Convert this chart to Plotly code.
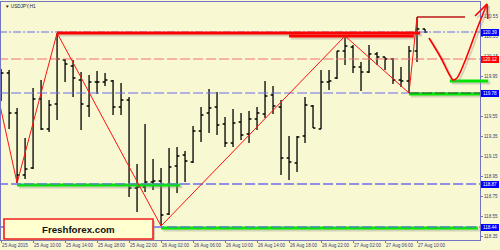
import plotly.graph_objects as go

# ---------------- data ----------------
bars = list(range(54))  # hourly bars from 25 Aug 2015 06:00
opens = [119.80, 119.98, 119.58, 118.96, 119.03, 119.72, 119.42, 119.67, 120.11, 120.05,
         119.91, 119.65, 119.89, 119.89, 119.90, 119.64, 119.71, 118.83, 118.84, 118.89,
         118.90, 118.57, 119.05, 119.16, 119.09, 119.40, 119.58, 119.64, 119.47, 119.28,
         119.49, 119.37, 119.52, 119.57, 119.76, 119.64, 119.13, 119.08, 119.35, 119.65,
         119.42, 119.89, 119.93, 120.20, 120.24, 120.04, 119.99, 120.17, 120.14, 120.12,
         119.91, 119.90, 120.20, 120.42]
highs = [120.02, 120.01, 119.63, 119.33, 119.83, 119.91, 119.71, 120.38, 120.12, 120.11,
         119.99, 119.96, 120.00, 119.98, 119.91, 119.88, 119.74, 119.07, 119.47, 119.12,
         119.03, 119.23, 119.24, 119.20, 119.45, 119.64, 119.82, 119.79, 119.54, 119.62,
         119.58, 119.60, 119.64, 119.90, 119.85, 119.71, 119.35, 119.35, 119.74, 119.66,
         120.01, 120.01, 120.20, 120.35, 120.26, 120.09, 120.26, 120.19, 120.14, 120.13,
         120.04, 120.25, 120.54, 120.42]
lows = [119.70, 119.42, 118.88, 118.92, 119.02, 119.41, 119.39, 119.51, 119.89, 119.74,
        119.41, 119.54, 119.77, 119.85, 119.56, 119.56, 118.74, 118.59, 118.79, 118.81,
        118.45, 118.56, 118.78, 118.89, 119.08, 119.29, 119.38, 119.36, 119.24, 119.24,
        119.31, 119.28, 119.41, 119.53, 119.57, 118.96, 118.91, 118.99, 119.28, 119.43,
        119.42, 119.81, 119.92, 120.06, 119.98, 119.80, 119.98, 120.06, 120.01, 119.87,
        119.84, 119.78, 120.09, 120.38]
closes = [119.98, 119.58, 118.96, 119.02, 119.72, 119.42, 119.66, 120.12, 120.07, 119.93,
          119.67, 119.89, 119.89, 119.91, 119.64, 119.71, 118.83, 118.84, 118.89, 118.90,
          118.56, 119.04, 119.15, 119.10, 119.40, 119.56, 119.63, 119.46, 119.28, 119.48,
          119.36, 119.52, 119.58, 119.75, 119.65, 119.13, 119.09, 119.34, 119.66, 119.43,
          119.89, 119.90, 120.20, 120.25, 120.04, 119.99, 120.17, 120.14, 120.12, 119.91,
          119.90, 120.20, 120.42, 120.39]

tick_bars = list(range(0, 53, 4))
tick_text = ["25 Aug 2015", "25 Aug 10:00", "25 Aug 14:00", "25 Aug 18:00", "25 Aug 22:00",
             "26 Aug 02:00", "26 Aug 06:00", "26 Aug 10:00", "26 Aug 14:00", "26 Aug 18:00",
             "26 Aug 22:00", "27 Aug 02:00", "27 Aug 06:00", "27 Aug 10:00"]
price_ticks = [120.55, 120.35, 120.15, 119.95, 119.75, 119.55, 119.35, 119.15,
               118.95, 118.75, 118.55, 118.35]
price_tick_text = ["120.55", "120.35", "120.15", "119.95", "", "119.55", "119.35", "119.15",
                   "118.95", "118.75", "118.55", "118.35"]

bid_price = 120.39
red_level = 120.12
blue_levels = [119.78, 118.87, 118.44]
box_prices = [120.39, 120.12, 119.78, 118.87, 118.44]
box_colors = ["#0000ff", "#ff0000", "#0000ff", "#0000ff", "#0000ff"]

res_prices = [120.38, 120.35]
res_start = [7, 36]
res_end = [52.4, 51.6]

sup_prices = [118.86, 118.43, 119.77]
sup_start = [2, 20, 51]
sup_end = [22.4, 59.6, 59.9]

high_line_price = 120.54
high_line_start, high_line_end = 52, 58

zz_bar = [-0.2, 2, 7, 20, 43, 51, 52]
zz_price = [119.68, 118.88, 120.38, 118.45, 120.35, 119.78, 120.54]

fc_bar = [53.5, 55.0, 56.0, 56.5, 57.0, 58.0, 59.5, 60.75]
fc_price = [120.33, 120.13, 119.97, 119.91, 119.93, 120.10, 120.42, 120.67]
arrow_bar = [59.25, 60.75, 60.85]
arrow_price = [120.55, 120.67, 120.52]
fc_green_price = 119.90
fc_green_start, fc_green_end = 56.1, 60.9

# ---------------- scales ----------------
W, H = 500, 250
L, R, T, B = 1, 480, 2, 240
PX_PER_BAR = 8.0
PX_PER_UNIT = 100.0
x_lo = (L - 1) / PX_PER_BAR - 0.01
x_hi = (R - 1) / PX_PER_BAR
y_hi = bid_price + (32 - T) / PX_PER_UNIT
y_lo = bid_price - (B - 32) / PX_PER_UNIT
x2_lo = x_lo - L / PX_PER_BAR
x2_hi = x_hi + (W - R) / PX_PER_BAR
y2_lo = y_lo - (H - B) / PX_PER_UNIT
y2_hi = y_hi + T / PX_PER_UNIT
DX = 2 / PX_PER_BAR
DY = 2 / PX_PER_UNIT

BG = "#f8f8d2"
AX = "#7474c4"
TXT = "#3c3c78"
BLUE = "#6c6cf0"
SHADOW = "rgba(140,140,140,0.35)"
FONT = "Liberation Sans"

fig = go.Figure()


def line(xs, ys, color, width, dash=None, ax=("x", "y"), shape="linear"):
    fig.add_trace(go.Scatter(x=xs, y=ys, mode="lines",
                             line=dict(color=color, width=width, dash=dash, shape=shape, smoothing=0.8),
                             hoverinfo="skip", showlegend=False, xaxis=ax[0], yaxis=ax[1]))


# level lines (dashed)
line([-2, 62], [bid_price, bid_price], BLUE, 1, "8px,2px,2px,2px")
line([-2, 62], [red_level, red_level], "#f07070", 1, "10px,3px")
for p in blue_levels:
    line([-2, 62], [p, p], BLUE, 1, "10px,3px")

# bars
fig.add_trace(go.Ohlc(x=bars, open=opens, high=highs, low=lows, close=closes,
                      increasing=dict(line=dict(color="black", width=1.3)),
                      decreasing=dict(line=dict(color="black", width=1.3)),
                      tickwidth=0.3, hoverinfo="skip", showlegend=False))

# green support lines with shadow
for p, s, e in zip(sup_prices, sup_start, sup_end):
    line([s + DX, e + DX], [p - DY, p - DY], SHADOW, 3)
for p, s, e in zip(sup_prices, sup_start, sup_end):
    line([s, e], [p, p], "#00e600", 3)
for p in blue_levels[1:]:
    line([-2, 62], [p, p], BLUE, 1, "10px,3px")
line([51, 62], [blue_levels[0], blue_levels[0]], "#305030", 1, "10px,3px")

# red resistance lines with shadow
for p, s, e in zip(res_prices, res_start, res_end):
    line([s + DX, e + DX], [p - DY, p - DY], SHADOW, 3)
for p, s, e in zip(res_prices, res_start, res_end):
    line([s, e], [p, p], "#ff0000", 3)

# high line
line([high_line_start, high_line_end], [high_line_price, high_line_price], "#b81818", 1.3)

# zigzag
line(zz_bar, zz_price, "#ff1010", 1)

# forecast (overlay axes, may leave plot area)
ax2 = ("x2", "y2")
line([fc_green_start + DX, fc_green_end + DX], [fc_green_price - DY, fc_green_price - DY], SHADOW, 3, ax=ax2)
line([fc_green_start, fc_green_end], [fc_green_price, fc_green_price], "#00e600", 3, ax=ax2)
line([b + DX for b in fc_bar], [p - DY for p in fc_price], SHADOW, 1.8, ax=ax2, shape="spline")
line(fc_bar, fc_price, "#ff0000", 1.6, ax=ax2, shape="spline")
line([b + DX for b in arrow_bar], [p - DY for p in arrow_price], SHADOW, 1.6, ax=ax2)
line(arrow_bar, arrow_price, "#ff0000", 1.6, ax=ax2)

# price label boxes
for p, c in zip(box_prices, box_colors):
    fig.add_annotation(x=481 / W, xref="paper", y=p, yref="y", xanchor="left", yanchor="middle",
                       text=f"{p:.2f}", showarrow=False, bgcolor=c, bordercolor=c, borderwidth=0,
                       borderpad=0, width=18, height=7,
                       font=dict(size=4.6, color="white", family=FONT))

# title
fig.add_annotation(x=3 / W, xref="paper", y=1 - 6 / H, yref="paper", xanchor="left", yanchor="middle",
                   text="▼ USDJPY,H1", showarrow=False, font=dict(size=4.6, color="#202040", family=FONT))

# Freshforex box
fig.add_shape(type="rect", xref="paper", yref="paper", x0=6 / W, x1=155 / W, y0=1 - 241 / H, y1=1 - 221 / H,
              fillcolor="rgba(140,140,140,0.4)", line=dict(width=0), layer="above")
fig.add_shape(type="rect", xref="paper", yref="paper", x0=4 / W, x1=153 / W, y0=1 - 239 / H, y1=1 - 219 / H,
              fillcolor="#ffffd0", line=dict(color="#f02020", width=1.6), layer="above")
fig.add_annotation(x=78.5 / W, xref="paper", y=1 - 229.5 / H, yref="paper", xanchor="center", yanchor="middle",
                   text="<b>Freshforex.com</b>", showarrow=False,
                   font=dict(size=9.7, color="#101010", family=FONT))

fig.update_layout(
    width=W, height=H, margin=dict(l=0, r=0, t=0, b=0),
    paper_bgcolor=BG, plot_bgcolor="rgba(0,0,0,0)", showlegend=False,
    xaxis=dict(domain=[L / W, R / W], range=[x_lo, x_hi], tickmode="array", tickvals=tick_bars,
               ticktext=tick_text, ticks="outside", ticklen=2, tickcolor=AX, showline=True,
               linecolor=AX, mirror=True, showgrid=False, zeroline=False, tickangle=0,
               rangeslider=dict(visible=False), ticklabelposition="outside right",
               tickfont=dict(size=4.6, color=TXT, family=FONT), fixedrange=True, anchor="y",
               automargin=False),
    yaxis=dict(domain=[1 - B / H, 1 - T / H], range=[y_lo, y_hi], side="right", tickmode="array",
               tickvals=price_ticks, ticktext=price_tick_text, ticks="outside",
               ticklen=2, tickcolor=AX, showline=True, linecolor=AX, mirror=True, showgrid=False,
               zeroline=False, tickfont=dict(size=4.6, color=TXT, family=FONT), fixedrange=True,
               anchor="x", automargin=False),
    xaxis2=dict(domain=[0, 1], range=[x2_lo, x2_hi], visible=False, anchor="y2", fixedrange=True),
    yaxis2=dict(domain=[0, 1], range=[y2_lo, y2_hi], visible=False, anchor="x2", fixedrange=True),
)

fig.write_html("out.html")
